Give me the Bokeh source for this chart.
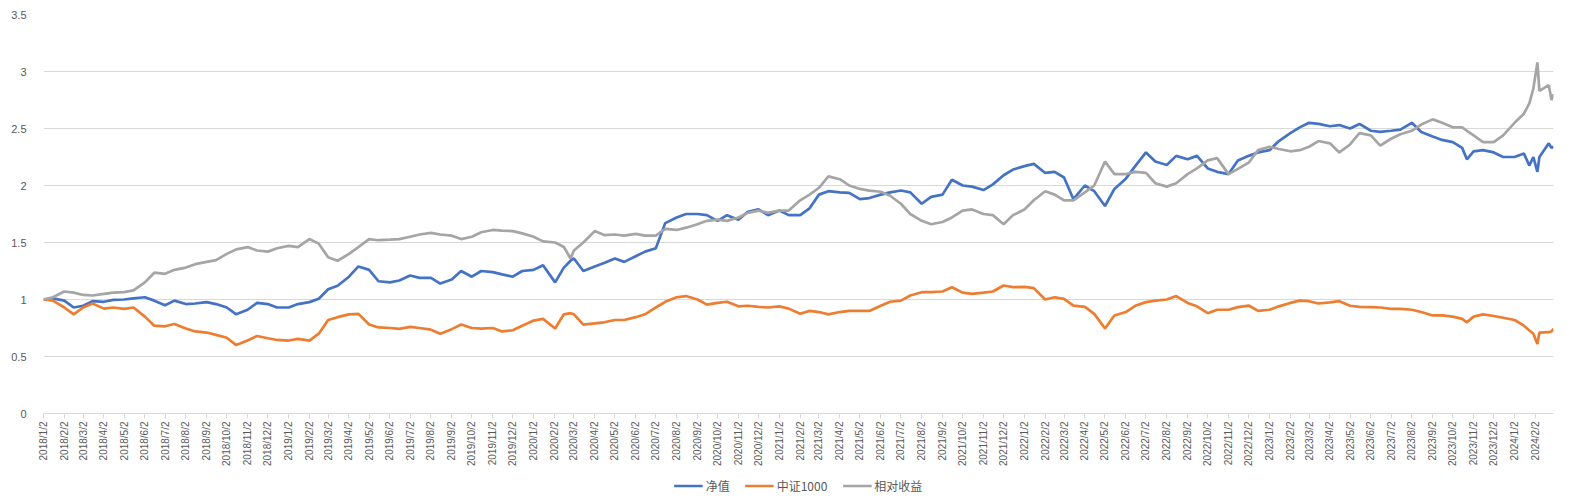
import pandas as pd
from bokeh.plotting import figure
from bokeh.layouts import column
from bokeh.models import (FixedTicker, Legend, LegendItem, Range1d,
                          ColumnDataSource, CustomJSTickFormatter)
from bokeh.embed import file_html
from bokeh.resources import INLINE

# ---- data ----
dates = [
    "2018-01-02", "2018-01-16", "2018-02-02", "2018-02-16", "2018-03-02", "2018-03-16",
    "2018-04-02", "2018-04-16", "2018-05-02", "2018-05-16", "2018-06-02", "2018-06-16",
    "2018-07-02", "2018-07-16", "2018-08-02", "2018-08-16", "2018-09-02", "2018-09-16",
    "2018-10-02", "2018-10-16", "2018-11-02", "2018-11-16", "2018-12-02", "2018-12-16",
    "2019-01-02", "2019-01-16", "2019-02-02", "2019-02-16", "2019-03-02", "2019-03-16",
    "2019-04-02", "2019-04-16", "2019-05-02", "2019-05-16", "2019-06-02", "2019-06-16",
    "2019-07-02", "2019-07-16", "2019-08-02", "2019-08-16", "2019-09-02", "2019-09-16",
    "2019-10-02", "2019-10-16", "2019-11-02", "2019-11-16", "2019-12-02", "2019-12-16",
    "2020-01-02", "2020-01-16", "2020-02-03", "2020-02-16", "2020-02-26", "2020-03-02",
    "2020-03-16", "2020-04-02", "2020-04-16", "2020-05-02", "2020-05-16", "2020-06-02",
    "2020-06-16", "2020-07-02", "2020-07-16", "2020-08-02", "2020-08-16", "2020-09-02",
    "2020-09-16", "2020-10-02", "2020-10-16", "2020-11-02", "2020-11-16", "2020-12-02",
    "2020-12-16", "2021-01-02", "2021-01-16", "2021-02-02", "2021-02-16", "2021-03-02",
    "2021-03-16", "2021-04-02", "2021-04-16", "2021-05-02", "2021-05-16", "2021-06-02",
    "2021-06-16", "2021-07-02", "2021-07-16", "2021-08-02", "2021-08-16", "2021-09-02",
    "2021-09-16", "2021-10-02", "2021-10-16", "2021-11-02", "2021-11-16", "2021-12-02",
    "2021-12-16", "2022-01-02", "2022-01-16", "2022-02-02", "2022-02-16", "2022-03-02",
    "2022-03-16", "2022-04-02", "2022-04-16", "2022-05-02", "2022-05-16", "2022-06-02",
    "2022-06-16", "2022-07-02", "2022-07-16", "2022-08-02", "2022-08-16", "2022-09-02",
    "2022-09-16", "2022-10-02", "2022-10-16", "2022-11-02", "2022-11-16", "2022-12-02",
    "2022-12-16", "2023-01-02", "2023-01-16", "2023-02-02", "2023-02-16", "2023-03-02",
    "2023-03-16", "2023-04-02", "2023-04-16", "2023-05-02", "2023-05-16", "2023-06-02",
    "2023-06-16", "2023-07-02", "2023-07-16", "2023-08-02", "2023-08-16", "2023-09-02",
    "2023-09-16", "2023-10-02", "2023-10-16", "2023-10-23", "2023-11-02", "2023-11-16",
    "2023-12-02", "2023-12-16", "2024-01-02", "2024-01-16", "2024-01-24", "2024-01-30",
    "2024-02-05", "2024-02-08", "2024-02-22", "2024-02-26", "2024-02-29",
]

nav = [  # 净值
    1.00, 1.01, 0.99, 0.93, 0.945, 0.985,
    0.98, 0.997, 1.00, 1.01, 1.02, 0.99,
    0.95, 0.99, 0.96, 0.965, 0.977, 0.96,
    0.93, 0.87, 0.91, 0.97, 0.96, 0.93,
    0.93, 0.96, 0.977, 1.006, 1.09, 1.12,
    1.20, 1.29, 1.26, 1.16, 1.15, 1.167,
    1.21, 1.19, 1.19, 1.14, 1.175, 1.25,
    1.20, 1.25, 1.24, 1.22, 1.20, 1.25,
    1.26, 1.30, 1.15, 1.28, 1.34, 1.36,
    1.25, 1.29, 1.32, 1.36, 1.33, 1.38,
    1.42, 1.45, 1.67, 1.72, 1.75, 1.75,
    1.74, 1.69, 1.74, 1.70, 1.77, 1.79,
    1.74, 1.78, 1.74, 1.74, 1.80, 1.92,
    1.95, 1.94, 1.935, 1.88, 1.89, 1.92,
    1.94, 1.956, 1.94, 1.84, 1.90, 1.92,
    2.05, 2.00, 1.99, 1.96, 2.01, 2.09,
    2.14, 2.17, 2.19, 2.11, 2.12, 2.07,
    1.88, 2.00, 1.95, 1.82, 1.97, 2.06,
    2.17, 2.29, 2.21, 2.18, 2.26, 2.23,
    2.26, 2.15, 2.12, 2.10, 2.22, 2.26,
    2.29, 2.31, 2.39, 2.46, 2.51, 2.55,
    2.54, 2.52, 2.53, 2.50, 2.54, 2.48,
    2.47, 2.48, 2.49, 2.55, 2.47, 2.43,
    2.40, 2.38, 2.33, 2.23, 2.30, 2.31,
    2.29, 2.25, 2.25, 2.28, 2.175, 2.25,
    2.12, 2.25, 2.37, 2.33, 2.34,
]

csi1000 = [  # 中证1000
    1.00, 0.99, 0.93, 0.87, 0.93, 0.965,
    0.92, 0.93, 0.918, 0.93, 0.85, 0.77,
    0.765, 0.785, 0.745, 0.72, 0.71, 0.69,
    0.665, 0.60, 0.64, 0.68, 0.66, 0.645,
    0.64, 0.655, 0.64, 0.70, 0.82, 0.845,
    0.87, 0.874, 0.78, 0.755, 0.75, 0.743,
    0.76, 0.75, 0.735, 0.70, 0.74, 0.78,
    0.75, 0.745, 0.75, 0.72, 0.73, 0.77,
    0.815, 0.83, 0.745, 0.87, 0.88, 0.87,
    0.78, 0.79, 0.80, 0.82, 0.82, 0.845,
    0.87, 0.93, 0.98, 1.02, 1.03, 1.00,
    0.955, 0.97, 0.98, 0.94, 0.945, 0.935,
    0.93, 0.94, 0.92, 0.875, 0.90, 0.89,
    0.87, 0.89, 0.90, 0.90, 0.90, 0.945,
    0.98, 0.99, 1.035, 1.064, 1.064, 1.07,
    1.108, 1.06, 1.05, 1.06, 1.07, 1.123,
    1.108, 1.11, 1.10, 1.00, 1.02, 1.006,
    0.947, 0.935, 0.874, 0.745, 0.86, 0.89,
    0.945, 0.977, 0.99, 1.00, 1.03, 0.97,
    0.94, 0.88, 0.91, 0.91, 0.933, 0.947,
    0.90, 0.91, 0.94, 0.97, 0.99, 0.985,
    0.965, 0.975, 0.985, 0.945, 0.935, 0.933,
    0.93, 0.918, 0.918, 0.91, 0.89, 0.86,
    0.86, 0.85, 0.83, 0.80, 0.85, 0.87,
    0.855, 0.84, 0.82, 0.77, 0.728, 0.70,
    0.61, 0.71, 0.713, 0.72, 0.743,
]

rel = [  # 相对收益
    1.00, 1.02, 1.07, 1.06, 1.04, 1.035,
    1.05, 1.06, 1.065, 1.08, 1.15, 1.235,
    1.225, 1.26, 1.28, 1.31, 1.33, 1.345,
    1.40, 1.44, 1.46, 1.43, 1.42, 1.45,
    1.47, 1.46, 1.53, 1.49, 1.37, 1.34,
    1.40, 1.46, 1.53, 1.52, 1.525, 1.53,
    1.55, 1.57, 1.585, 1.57, 1.56, 1.53,
    1.55, 1.59, 1.61, 1.605, 1.60, 1.58,
    1.55, 1.51, 1.50, 1.46, 1.36, 1.43,
    1.50, 1.60, 1.565, 1.57, 1.56, 1.575,
    1.56, 1.56, 1.62, 1.61, 1.63, 1.66,
    1.69, 1.70, 1.69, 1.72, 1.76, 1.78,
    1.76, 1.78, 1.78, 1.87, 1.92, 1.98,
    2.08, 2.055, 2.00, 1.97, 1.955, 1.945,
    1.91, 1.84, 1.75, 1.69, 1.66, 1.68,
    1.72, 1.78, 1.79, 1.75, 1.74, 1.66,
    1.74, 1.79, 1.87, 1.95, 1.92, 1.87,
    1.87, 1.94, 2.00, 2.21, 2.10, 2.10,
    2.12, 2.11, 2.02, 1.99, 2.02, 2.10,
    2.15, 2.22, 2.24, 2.10, 2.146, 2.20,
    2.31, 2.34, 2.32, 2.30, 2.31, 2.34,
    2.39, 2.37, 2.29, 2.36, 2.46, 2.44,
    2.35, 2.41, 2.45, 2.48, 2.535, 2.58,
    2.55, 2.51, 2.51, 2.48, 2.44, 2.38,
    2.38, 2.44, 2.55, 2.63, 2.72, 2.85,
    3.08, 2.83, 2.88, 2.75, 2.80,
]

series_names = ["净值", "中证1000", "相对收益"]
series_colors = ["#4472C4", "#ED7D31", "#A5A5A5"]
y_ticks = [0, 0.5, 1, 1.5, 2, 2.5, 3, 3.5]

# ---- build ----
start = pd.Timestamp("2018-01-02")
xs = [(pd.Timestamp(d) - start).days for d in dates]

tick_dates = pd.date_range("2018-01-01", "2024-02-01", freq="MS") + pd.Timedelta(days=1)
x_ticks = [int((t - start).days) for t in tick_dates]
x_labels = {int((t - start).days): f"{t.year}/{t.month}/{t.day}" for t in tick_dates}

src = ColumnDataSource(dict(x=xs, nav=nav, csi=csi1000, rel=rel))

p = figure(width=1568, height=474, output_backend="svg", toolbar_location=None,
           x_range=Range1d(0, xs[-1]), y_range=Range1d(0, 3.5),
           min_border_left=43, min_border_right=15, min_border_top=14,
           min_border_bottom=61)
p.outline_line_color = None
p.background_fill_color = "white"
p.border_fill_color = "white"

p.line("x", "nav", source=src, color=series_colors[0], line_width=2.7)
p.line("x", "csi", source=src, color=series_colors[1], line_width=2.7)
p.line("x", "rel", source=src, color=series_colors[2], line_width=2.7)

# x axis
xa = p.xaxis[0]
xa.ticker = FixedTicker(ticks=x_ticks)
xa.major_label_overrides = x_labels
xa.major_label_orientation = 3.14159265 / 2
xa.axis_line_color = "#d9d9d9"
xa.major_tick_line_color = "#d9d9d9"
xa.major_tick_out = 5
xa.major_tick_in = 0
xa.minor_tick_line_color = None
xa.major_label_standoff = 3
xa.major_label_text_font = "Liberation Sans"
xa.major_label_text_font_size = "10px"
xa.major_label_text_color = "#595959"

# y axis
ya = p.yaxis[0]
ya.ticker = FixedTicker(ticks=y_ticks)
ya.formatter = CustomJSTickFormatter(code="return tick.toString();")
ya.axis_line_color = None
ya.major_tick_line_color = None
ya.minor_tick_line_color = None
ya.major_label_standoff = 11
ya.major_label_text_font = "Liberation Sans"
ya.major_label_text_font_size = "11px"
ya.major_label_text_color = "#595959"

p.xgrid.visible = False
p.ygrid.ticker = FixedTicker(ticks=y_ticks)
p.ygrid.grid_line_color = "#d9d9d9"
p.ygrid.grid_line_width = 1

# legend strip (separate small figure below the chart); its key lines are
# placed outside the strip's visible range, only their legend samples show
lg = figure(width=1568, height=22, output_backend="svg", toolbar_location=None,
            x_axis_type=None, y_axis_type=None,
            x_range=Range1d(0, 1), y_range=Range1d(0, 1),
            min_border_left=0, min_border_right=6, min_border_top=0,
            min_border_bottom=0)
lg.outline_line_color = None
lg.xgrid.visible = False
lg.ygrid.visible = False
key_src = ColumnDataSource(dict(x=[-5, -4], y=[-5, -5]))
k1 = lg.line("x", "y", source=key_src, color=series_colors[0], line_width=2.7)
k2 = lg.line("x", "y", source=key_src, color=series_colors[1], line_width=2.7)
k3 = lg.line("x", "y", source=key_src, color=series_colors[2], line_width=2.7)

legend = Legend(items=[LegendItem(label=series_names[0], renderers=[k1]),
                       LegendItem(label=series_names[1], renderers=[k2]),
                       LegendItem(label=series_names[2], renderers=[k3])],
                orientation="horizontal", location="center")
legend.label_text_font = "Noto Sans CJK SC"
legend.label_text_font_size = "12px"
legend.label_text_color = "#595959"
legend.glyph_width = 29
legend.glyph_height = 14
legend.label_height = 14
legend.label_standoff = 3
legend.spacing = 15
legend.padding = 2
legend.margin = 0
legend.border_line_color = None
legend.background_fill_alpha = 0
lg.add_layout(legend, "center")

layout = column(p, lg, spacing=0)

open("out.html", "w").write(file_html(layout, INLINE))
